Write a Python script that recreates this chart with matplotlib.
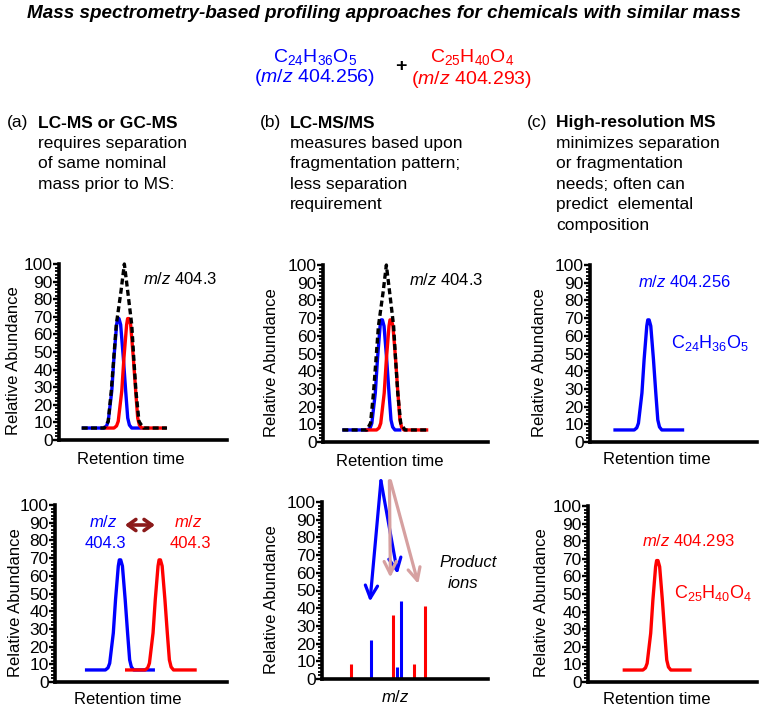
import matplotlib
matplotlib.use('Agg')
import matplotlib.pyplot as plt
from matplotlib.ticker import MultipleLocator

plt.rcParams['font.family'] = 'Liberation Sans'
plt.rcParams['mathtext.fontset'] = 'custom'
plt.rcParams['mathtext.rm'] = 'Liberation Sans'
plt.rcParams['mathtext.it'] = 'Liberation Sans:italic'

W, H = 764, 713
BLUE = '#0000ff'
RED = '#ff0000'
PINK = '#d6a0a0'
MAROON = '#8b1a1a'

# single peak shape (offset from apex, abundance)
peak_dx = [-8.5, -7.0, -6.0, -3.9, -2.6, -1.0, -0.4, 0.4, 1.4, 3.0, 4.4, 5.6, 6.6, 8.0]
peak_y = [6.8, 8.0, 10.6, 27.7, 46.6, 65.5, 69.0, 69.0, 65.5, 46.6, 27.7, 12.5, 8.5, 6.8]

# combined (dashed) m/z 404.3 trace
sum_dx = [-11.9, -9.6, -7.8, -6.3, -4.8, -2.0, 0.0, 2.0, 4.4, 5.6, 6.9, 8.7, 11.3]
sum_y = [6.8, 10.6, 27.7, 46.6, 65.5, 84.5, 100.0, 84.5, 65.5, 46.6, 27.7, 10.6, 6.8]

# (apex position, first x, last x) for every chromatogram trace
a1_blue = (35.3, 13.5, 49.2)
a1_red = (41.25, 27.4, 64.0)
a1_sum = (38.9, 13.5, 64.3)
b1_blue = (35.6, 11.7, 47.5)
b1_red = (41.0, 25.3, 63.8)
b1_sum = (38.4, 11.7, 63.8)
c1_blue = (35.0, 14.0, 56.4)
a2_blue = (37.8, 17.4, 58.1)
a2_red = (60.9, 40.7, 82.4)
c2_red = (41.0, 20.5, 61.3)

# product ion spectrum
ions_blue_mz = [29.5, 45.2, 47.4]
ions_blue_int = [22, 7, 44]
ions_red_mz = [17.3, 42.8, 55.6, 62.0]
ions_red_int = [8.5, 36, 8.5, 41]

# fragmentation arrows (start, end) in data units of the MS/MS panel
blue_arrows = [((35.5, 112), (28.9, 43.7)), ((35.5, 112), (45.6, 59.3))]
pink_arrows = [((40.6, 112), (41.2, 57.3)), ((41.2, 112), (58.0, 53.7))]

title = 'Mass spectrometry-based profiling approaches for chemicals with similar mass'
head_a = ['requires separation', 'of same nominal', 'mass prior to MS:']
head_b = ['measures based upon', 'fragmentation pattern;', 'less separation', 'requirement']
head_c = ['minimizes separation', 'or fragmentation', 'needs; often can',
          'predict  elemental', 'composition']

fig = plt.figure(figsize=(W / 100, H / 100), dpi=100)


def ftext(x, y, s, **kw):
    kw.setdefault('va', 'center')
    fig.text(x / W, 1 - y / H, s, **kw)


def make_ax(left, right, y0, y100, xlabel, ylab_x, xlab_xy):
    ax = fig.add_axes([left / W, 1 - y0 / H, (right - left) / W, (y0 - y100) / H])
    ax.set_xlim(0, 100)
    ax.set_ylim(0, 100)
    for s in ['top', 'right']:
        ax.spines[s].set_visible(False)
    for s in ['left', 'bottom']:
        ax.spines[s].set_linewidth(2.6)
    ax.set_xticks([])
    ax.yaxis.set_major_locator(MultipleLocator(10))
    ax.yaxis.set_minor_locator(MultipleLocator(2))
    ax.tick_params(axis='y', which='major', length=4, width=1.7, labelsize=12.5, pad=0.5)
    ax.tick_params(axis='y', which='minor', length=3, width=1.3)
    ax.set_ylabel('Relative Abundance', fontsize=12, va='center')
    ax.yaxis.set_label_coords((ylab_x - left) / (right - left), 0.45)
    ax.set_xlabel(xlabel, fontsize=12, va='center')
    ax.xaxis.set_label_coords((xlab_xy[0] - left) / (right - left),
                              (y0 - xlab_xy[1]) / (y0 - y100))
    return ax


def trace(ax, peak, dx, yv, **kw):
    c, x0, x1 = peak
    xs = [x0] + [c + d for d in dx] + [x1]
    ys = [yv[0]] + list(yv) + [yv[-1]]
    ax.plot(xs, ys, lw=2.4, solid_capstyle='butt', clip_on=False, **kw)


# header
ftext(384, 14, title, ha='center', fontsize=13.6, fontweight='bold', style='italic')
ftext(315, 57, r'C$_{24}$H$_{36}$O$_5$', ha='center', fontsize=14, color=BLUE)
ftext(315, 78, r'($\mathit{m/z}$ 404.256)', ha='center', fontsize=14, color=BLUE)
ftext(401, 67, '+', ha='center', fontsize=14, fontweight='bold')
ftext(472, 57, r'C$_{25}$H$_{40}$O$_4$', ha='center', fontsize=14, color=RED)
ftext(472, 79, r'($\mathit{m/z}$ 404.293)', ha='center', fontsize=14, color=RED)

for lx, tx, lab, name, lines in [(7, 38, '(a)', 'LC-MS or GC-MS', head_a),
                                  (260, 290, '(b)', 'LC-MS/MS', head_b),
                                  (527, 556, '(c)', 'High-resolution MS', head_c)]:
    ftext(lx, 123, lab, fontsize=12.5)
    ftext(tx, 123, name, fontsize=12.5, fontweight='bold')
    for i, line in enumerate(lines):
        ftext(tx, 143.5 + 20.4 * i, line, fontsize=12.5)

# (a) top
ax = make_ax(59, 227, 440, 264, 'Retention time', 14, (131, 459))
trace(ax, a1_blue, peak_dx, peak_y, color=BLUE)
trace(ax, a1_red, peak_dx, peak_y, color=RED)
trace(ax, a1_sum, sum_dx, sum_y, color='black', ls=(0, (1.8, 1.0)))
ax.text(72.3, 91.5, r'$\mathit{m/z}$ 404.3', ha='center', va='center', fontsize=12)

# (b) top
ax = make_ax(323, 488, 442, 265, 'Retention time', 272, (390, 461))
trace(ax, b1_blue, peak_dx, peak_y, color=BLUE)
trace(ax, b1_red, peak_dx, peak_y, color=RED)
trace(ax, b1_sum, sum_dx, sum_y, color='black', ls=(0, (1.8, 1.0)))
ax.text(74.4, 91.5, r'$\mathit{m/z}$ 404.3', ha='center', va='center', fontsize=12)

# (c) top
ax = make_ax(590, 757, 442, 265, 'Retention time', 540, (657, 459))
trace(ax, c1_blue, peak_dx, peak_y, color=BLUE)
ax.text(56.4, 90.4, r'$\mathit{m/z}$ 404.256', ha='center', va='center', fontsize=12, color=BLUE)
ax.text(72, 56, r'C$_{24}$H$_{36}$O$_5$', ha='center', va='center', fontsize=13, color=BLUE)

# (a) bottom
ax = make_ax(55, 227, 682, 505, 'Retention time', 15, (128, 699))
trace(ax, a2_blue, peak_dx, peak_y, color=BLUE)
trace(ax, a2_red, peak_dx, peak_y, color=RED)
ax.text(28, 90.5, r'$\mathit{m/z}$', ha='center', va='center', fontsize=12, color=BLUE)
ax.text(29, 78.5, '404.3', ha='center', va='center', fontsize=12, color=BLUE)
ax.text(77.5, 90.5, r'$\mathit{m/z}$', ha='center', va='center', fontsize=12, color=RED)
ax.text(78.5, 78.5, '404.3', ha='center', va='center', fontsize=12, color=RED)
ax.annotate('', xy=(58.1, 88.7), xytext=(40.7, 88.7),
            arrowprops=dict(arrowstyle='<->,head_length=0.28,head_width=0.2',
                            color=MAROON, lw=2.6, shrinkA=0, shrinkB=0,
                            mutation_scale=20))

# (b) bottom
ax = make_ax(322, 488, 679, 502, r'$\mathit{m/z}$', 272, (395, 697))
ax.vlines(ions_red_mz, 0, ions_red_int, colors=RED, lw=2.2)
ax.vlines(ions_blue_mz, 0, ions_blue_int, colors=BLUE, lw=2.2)
for (s, e), col in [(a, BLUE) for a in blue_arrows] + [(a, PINK) for a in pink_arrows]:
    ax.annotate('', xy=e, xytext=s, annotation_clip=False,
                arrowprops=dict(arrowstyle='->,head_length=0.45,head_width=0.22',
                                color=col, lw=2.3, shrinkA=0, shrinkB=0,
                                mutation_scale=20, clip_on=False))
ax.text(88, 66, 'Product', ha='center', va='center', fontsize=12, style='italic')
ax.text(85, 54, 'ions', ha='center', va='center', fontsize=12, style='italic')

# (c) bottom
ax = make_ax(588, 757, 682, 506, 'Retention time', 541, (657, 700))
trace(ax, c2_red, peak_dx, peak_y, color=RED)
ax.text(59.5, 80, r'$\mathit{m/z}$ 404.293', ha='center', va='center', fontsize=12, color=RED)
ax.text(74.3, 50.6, r'C$_{25}$H$_{40}$O$_4$', ha='center', va='center', fontsize=13, color=RED)

fig.savefig('out.png', dpi=100, facecolor='white')
